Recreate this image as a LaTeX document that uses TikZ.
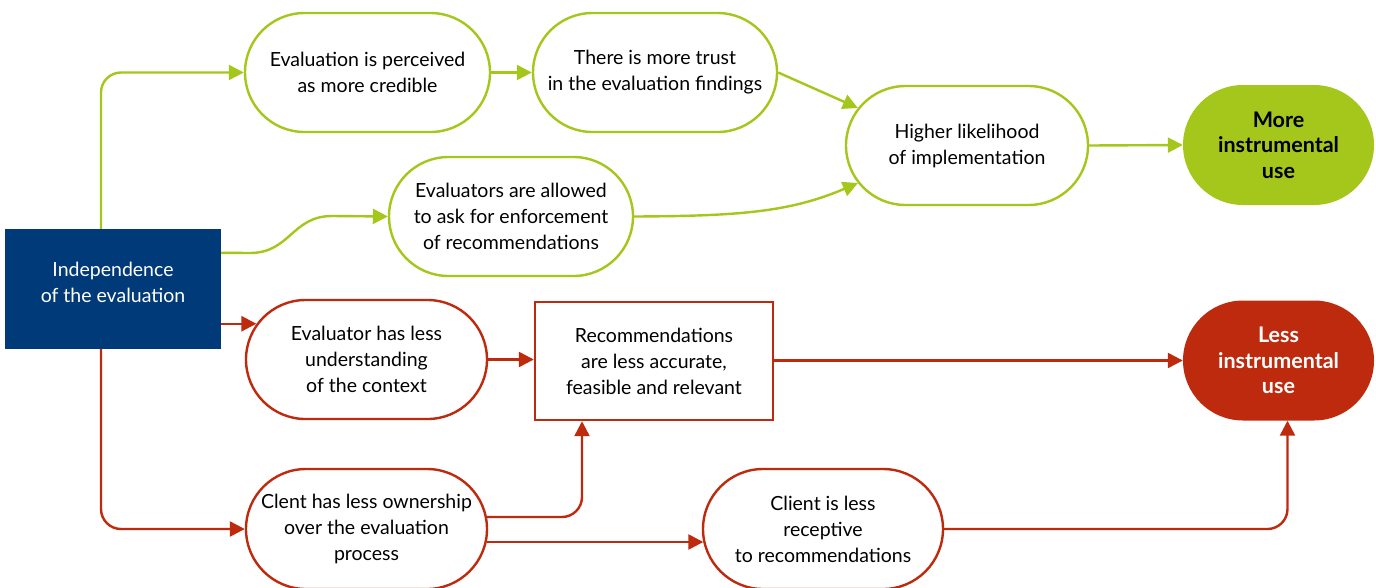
\documentclass[tikz,border=0pt]{standalone}
\usepackage{fontspec}
\setmainfont{Lato}
\usetikzlibrary{shapes.misc,arrows.meta,calc}
\definecolor{grn}{RGB}{165,198,26}
\definecolor{rd}{RGB}{190,42,14}
\definecolor{blu}{RGB}{0,58,120}
\tikzset{
  txt/.style={font=\fontsize{19.5}{26}\selectfont, align=center, text=black},
  stad/.style={txt, rounded rectangle, draw, line width=2.4pt, fill=white, inner sep=0pt, minimum height=119pt},
  gstad/.style={stad, draw=grn},
  rstad/.style={stad, draw=rd},
  goal/.style={rounded rectangle, inner sep=0pt, minimum height=120pt, minimum width=191pt, align=center,
     font=\fontsize{21.5}{25.5}\bfseries\selectfont},
  garr/.style={draw=grn, line width=2.4pt, -{Triangle[length=15pt,width=15pt]}},
  rarr/.style={draw=rd, line width=2.4pt, -{Triangle[length=15pt,width=15pt]}},
}
\begin{document}
\begin{tikzpicture}[x=1pt,y=-1pt]
\useasboundingbox (0,0) rectangle (1376,587);
\node[rectangle, fill=blu, minimum width=216pt, minimum height=120pt, inner sep=0pt, align=center, text=white,
  font=\fontsize{19.5}{26}\selectfont] (Ind) at (113,289) {Independence\\of the evaluation\\[-12pt]};
\node[gstad, minimum width=245pt] (E1) at (367.5,72.5) {Evaluation is perceived\\as more credible};
\node[gstad, minimum width=244pt] (E2) at (655,72.5) {There is more trust\\in the evaluation findings};
\node[gstad, minimum width=244pt] (E3) at (511,216.5) {Evaluators are allowed\\to ask for enforcement\\of recommendations};
\node[gstad, minimum width=242pt] (H) at (967,145.5) {Higher likelihood\\of implementation};
\node[goal, fill=grn, text=black] (M) at (1278.5,145) {More\\instrumental\\use};
\node[rstad, minimum width=241pt] (R1) at (366.5,359.5) {Evaluator has less\\understanding\\of the context};
\node[txt, rectangle, draw=rd, line width=2.4pt, minimum width=238pt, minimum height=118pt, inner sep=0pt] (Rec) at (654,361)
  {Recommendations\\are less accurate,\\feasible and relevant};
\node[goal, fill=rd, text=white] (L) at (1278.5,360.5) {Less\\instrumental\\use};
\node[rstad, minimum width=241pt, minimum height=120pt] (C) at (366.5,529) {Clent has less ownership\\over the evaluation\\process};
\node[rstad, minimum width=240pt, minimum height=120pt] (CR) at (823,529) {Client is less\\receptive\\to recommendations};

% green connectors
\draw[garr, rounded corners=20pt] ($(Ind.north)+(-12,0)$) |- (E1.west);
\draw[garr] (E1.east) -- (E2.west);
\draw[garr] (E2.east) -- (H.161);
\draw[garr] ($(Ind.north east)+(0,24)$) -- (250,253) .. controls (290,253) and (292,216) .. (332,216) -- (E3.west);
\draw[garr] (E3.east) .. controls (740,216) and (790,212) .. (H.199);
\draw[garr] (H.east) -- (M.west);
% red connectors
\draw[rarr] (Ind.east |- R1.162) -- (R1.162);
\draw[rarr, rounded corners=20pt] ($(Ind.south)+(-12,0)$) |- (C.west);
\draw[rarr] (R1.east) -- (Rec.west |- R1.east);
\draw[rarr] (Rec.east |- L.west) -- (L.west);
\draw[rarr, rounded corners=20pt] ($(C.east)+(-1,-12)$) -| ($(Rec.south)+(-72,0)$);
\draw[rarr] ($(C.east)+(-1,13)$) -- ($(CR.west)+(1.5,13)$);
\draw[rarr, rounded corners=20pt] (CR.east) -| ($(L.south)+(9,0)$);
\end{tikzpicture}
\end{document}
